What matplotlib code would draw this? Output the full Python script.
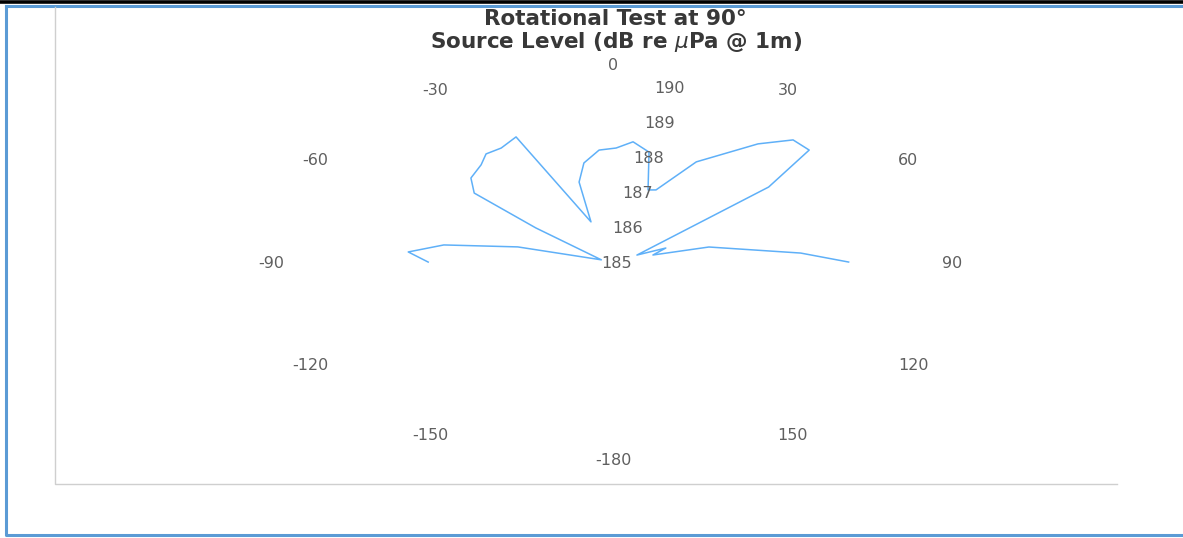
import numpy as np
import matplotlib
matplotlib.use("Agg")
import matplotlib.pyplot as plt
from matplotlib.lines import Line2D
from matplotlib import transforms

# measured source level vs. rotation angle (deg, clockwise from the top)
angle_deg = [-89.5, -84.7, -79.6, -73.8, -65.0, -52.0, -49.1, -44.2, -38.0, -34.1,
             -29.5, -24.1, -17.3, -13.7, -9.6, -4.1, 0.9, 5.5, 10.7, 15.6,
             18.9, 25.6, 35.3, 40.4, 45.3, 50.0, 60.3, 64.0, 71.0, 74.0,
             84.8, 89.6]
level_db = [188.02, 188.36, 187.81, 186.62, 185.21, 186.60, 188.00, 188.33, 188.50, 188.70,
            188.71, 188.88, 186.21, 187.34, 187.85, 188.18, 188.23, 188.42, 188.17, 187.13,
            187.17, 188.15, 189.10, 189.54, 189.51, 188.32, 185.45, 185.96, 185.69, 186.63,
            188.08, 188.85]

theta_ticks = [0, 30, 60, 90, 120, 150, 180, 210, 240, 270, 300, 330]
theta_labels = ['0', '30', '60', '90', '120', '150', '-180', '-150', '-120', '-90', '-60', '-30']
r_ticks = [185, 186, 187, 188, 189, 190]

plt.rcParams['font.family'] = ['DejaVu Sans']

W, H = 1183, 538
fig = plt.figure(figsize=(W / 100, H / 100), dpi=100)

# page decorations (screenshot frame)
fig.add_artist(Line2D([0, 1], [1 - 1.5 / H, 1 - 1.5 / H], color='black', lw=2.6))
fig.add_artist(Line2D([6 / W, 6 / W, 1.01], [1 - 6 / H, 1 - 535 / H, 1 - 535 / H],
                      color='#5b9bd5', lw=2.2))
fig.add_artist(Line2D([6 / W, 1.01], [1 - 6 / H, 1 - 6 / H], color='#5b9bd5', lw=2.2))
fig.add_artist(Line2D([55 / W, 55 / W, 1117 / W], [1 - 7 / H, 1 - 484 / H, 1 - 484 / H],
                      color='#cfcfcf', lw=1.0))

ax_w, ax_h = 612, 356
ax = fig.add_axes([307 / W, 1 - 441 / H, ax_w / W, ax_h / H], projection='polar')
ax.set_aspect('auto')
ax.set_theta_zero_location('N')
ax.set_theta_direction(-1)
ax.set_rlim(185, 190)
ax.plot(np.deg2rad(angle_deg), level_db, color='#5fb0f8', lw=1.1)
ax.grid(False)
ax.spines['polar'].set_visible(False)
ax.set_xticks([])
ax.set_yticks([])
ax.patch.set_alpha(0)

# angle labels, set a fixed distance outside the (stretched) outer circle
gap_x, gap_y = 23, 12
for t, lab in zip(theta_ticks, theta_labels):
    s, c = np.sin(np.deg2rad(t)), np.cos(np.deg2rad(t))
    ha = 'center' if abs(s) < 0.01 else ('left' if s > 0 else 'right')
    va = 'center' if abs(c) < 0.01 else ('bottom' if c > 0 else 'top')
    ax.annotate(lab, xy=(np.deg2rad(t), 190), xytext=(gap_x * s, gap_y * c),
                textcoords='offset pixels', ha=ha, va=va, fontsize=11.5, color='#5f5f5f')

rtrans = transforms.offset_copy(ax.transData, fig=fig, x=4, y=-1, units='dots')
for r in r_ticks:
    ax.text(np.deg2rad(9.9), r, str(r), transform=rtrans, ha='center', va='center',
            fontsize=11.5, color='#5f5f5f')

fig.text(615 / W, 1 - 19 / H, 'Rotational Test at 90°', ha='center', va='center',
         fontsize=15.5, weight='bold', color='#383838')
fig.text(616 / W, 1 - 42 / H, r'Source Level (dB re $\mu$Pa @ 1m)', ha='center', va='center',
         fontsize=15.5, weight='bold', color='#383838')

fig.savefig('out.png', dpi=100)
